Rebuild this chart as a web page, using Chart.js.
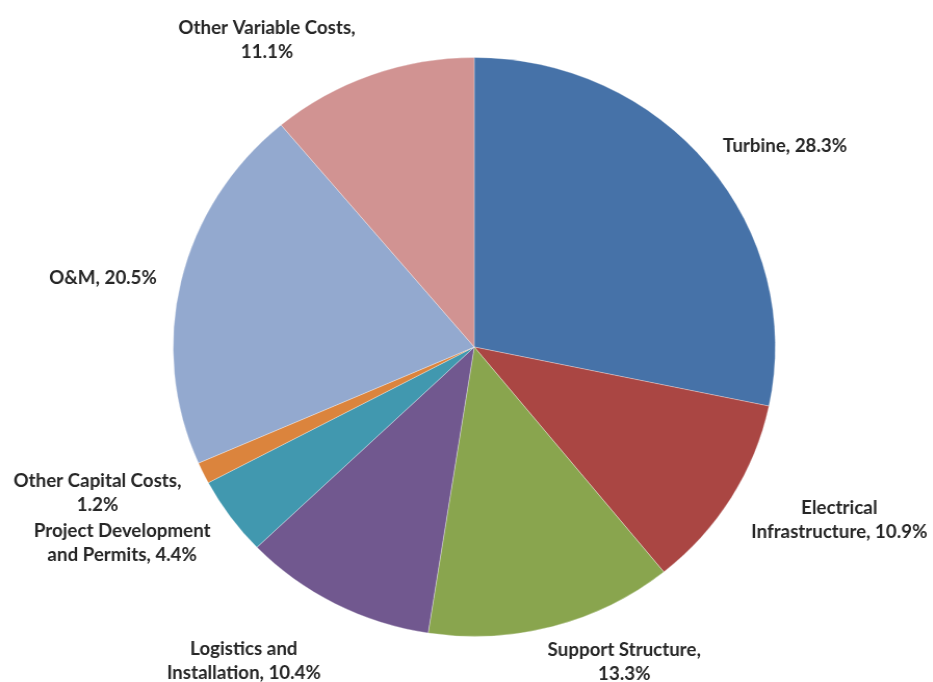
<!DOCTYPE html>
<html>
<head>
<meta charset="utf-8">
<title>Cost breakdown</title>
<script src="https://cdn.jsdelivr.net/npm/chart.js@4/dist/chart.umd.min.js"></script>
<style>
  html, body { margin: 0; padding: 0; background: #fff; overflow: hidden; }
  #wrap { width: 933px; height: 682px; position: relative; }
  /* pie is slightly wider than tall */
  #grafico { transform: scaleX(1.04); transform-origin: 0 0; display: block; }
</style>
</head>
<body>
<div id="wrap">
  <canvas id="grafico" width="897" height="682"></canvas>
</div>
<script>
/* ===============================
   DADOS
================================ */

const categorias = [
  ['Turbine, 28.3%'],
  ['Electrical', 'Infrastructure, 10.9%'],
  ['Support Structure,', '13.3%'],
  ['Logistics and', 'Installation, 10.4%'],
  ['Project Development', 'and Permits, 4.4%'],
  ['Other Capital Costs,', '1.2%'],
  ['O&M, 20.5%'],
  ['Other Variable Costs,', '11.1%']
];

const percentuais = [28.3, 10.9, 13.3, 10.4, 4.4, 1.2, 20.5, 11.1];

const cores = [
  '#4672a8', '#aa4643', '#89a54e', '#71588f',
  '#4198af', '#db843d', '#93a9cf', '#d19392'
];

/* ajuste fino de cada rótulo (px) depois do posicionamento automático */
const ajusteRotulos = [
  [20, -4], [23, 5], [47, 3], [-49, 27],
  [-27, 7], [-20, 5], [-15, 2], [-68, -3]
];

/* ===============================
   RÓTULOS FORA DAS FATIAS
================================ */

const rotulosPlugin = {
  id: 'rotulosFora',
  afterDatasetsDraw(chart) {
    const ctx = chart.ctx;
    const meta = chart.getDatasetMeta(0);
    const alturaLinha = 24;

    ctx.save();
    ctx.font = 'bold 18px Lato, "Open Sans", sans-serif';
    ctx.fillStyle = '#262626';
    ctx.textAlign = 'center';
    ctx.textBaseline = 'middle';

    meta.data.forEach((arco, i) => {
      const { x, y, startAngle, endAngle, outerRadius } =
        arco.getProps(['x', 'y', 'startAngle', 'endAngle', 'outerRadius'], true);
      const meio = (startAngle + endAngle) / 2;
      const dx = Math.cos(meio);
      const dy = Math.sin(meio);

      const linhas = categorias[i];
      const largura = Math.max(...linhas.map(l => ctx.measureText(l).width));
      const altura = linhas.length * alturaLinha;

      const r = outerRadius + 10;
      const cx = x + dx * r + dx * largura / 2 + ajusteRotulos[i][0];
      const cy = y + dy * r + dy * altura / 2 + ajusteRotulos[i][1];

      linhas.forEach((linha, j) => {
        const ly = cy - altura / 2 + alturaLinha * (j + 0.5);
        ctx.fillText(linha, cx, ly);
      });
    });

    ctx.restore();
  }
};

/* ===============================
   GRÁFICO DE PIZZA
================================ */

new Chart(document.getElementById('grafico'), {
  type: 'pie',
  data: {
    labels: categorias.map(c => c.join(' ')),
    datasets: [{
      data: percentuais,
      backgroundColor: cores,
      borderColor: 'rgba(255,255,255,0.3)',
      borderWidth: 1
    }]
  },
  options: {
    responsive: false,
    animation: false,
    layout: {
      padding: { top: 57, bottom: 45, left: 166, right: 151 }
    },
    plugins: {
      legend: { display: false },
      tooltip: { enabled: false }
    }
  },
  plugins: [rotulosPlugin]
});
</script>
</body>
</html>
